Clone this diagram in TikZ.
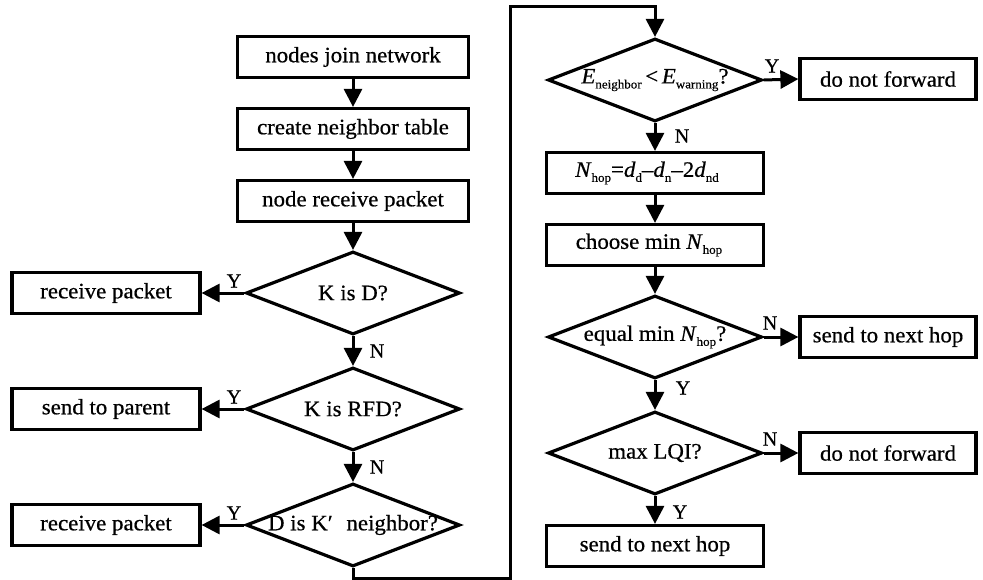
\documentclass[tikz,border=0pt]{standalone}
\usepackage{fontspec}
\setmainfont{Liberation Serif}
\usetikzlibrary{arrows.meta,shapes.geometric}
\newcommand{\sbs}[1]{\raisebox{-5pt}{\fontsize{12.5}{12.5}\selectfont\addfontfeatures{FakeBold=0.4} #1}}
\begin{document}
\begin{tikzpicture}[x=1pt,y=-1pt,
  font=\fontsize{22}{26}\selectfont\addfontfeatures{FakeBold=0.6,FakeStretch=1.04},
  box/.style={draw, line width=3.2pt, rectangle, minimum width=217pt, minimum height=41pt, inner sep=0pt},
  tbox/.style={box, minimum width=231pt},
  lbox/.style={box, minimum width=188pt},
  rbox/.style={box, minimum width=176pt},
  dia/.style={diamond, draw, line width=3.2pt, minimum width=214pt, minimum height=83pt, inner sep=0pt},
  arr/.style={line width=3pt, line join=miter, -{Triangle[length=18pt,width=18pt]}},
  lab/.style={font=\fontsize{20}{20}\selectfont\addfontfeatures{FakeBold=0.5}, inner sep=0pt}]
\useasboundingbox (0,0) rectangle (983,580);
% left column
\node[tbox] (n1) at (353,57) {nodes join network};
\node[tbox] (n2) at (353,129) {create neighbor table};
\node[tbox] (n3) at (353,201) {node receive packet};
\node[dia] (d1) at (353,293) {\makebox[0pt]{K is D?}};
\node[dia] (d2) at (353,409) {\makebox[0pt]{K is RFD?}};
\node[dia] (d3) at (353,525) {\makebox[0pt]{D is K′\hspace{8pt} neighbor?}};
\node[lbox] (r1) at (106,293) {receive packet};
\node[lbox] (r2) at (106,409) {send to parent};
\node[lbox] (r3) at (106,525) {receive packet};
% right column
\node[dia] (e1) at (655,80) {\makebox[0pt]{\textit{E}\sbs{neighbor}\,<\,\textit{E}\sbs{warning}?}};
\node[box] (b1) at (655,173) {\hspace{-16pt}\textit{N}\sbs{hop}=\textit{d}\sbs{d}–\textit{d}\sbs{n}–2\textit{d}\sbs{nd}};
\node[box] (b2) at (655,245) {\hspace{-12pt}choose min \textit{N}\sbs{hop}};
\node[dia] (d5) at (655,337) {\makebox[0pt]{equal min \textit{N}\sbs{hop}?}};
\node[dia] (d6) at (655,453) {\makebox[0pt]{max LQI?}};
\node[box] (b3) at (655,546) {send to next hop};
\node[rbox] (f1) at (888,79) {do not forward};
\node[rbox] (f2) at (888,337) {send to next hop};
\node[rbox] (f3) at (888,453) {do not forward};
% loop coordinates
\coordinate (c1) at (353,578);
\coordinate (c2) at (510,578);
\coordinate (c3) at (510,7);
\coordinate (c4) at (655,7);
% connectors
\draw[arr] (n1) -- (n2);
\draw[arr] (n2) -- (n3);
\draw[arr] (n3) -- (d1);
\draw[arr] (d1.west) -- (r1.east);
\draw[arr] (d1.south) -- (d2.north);
\draw[arr] (d2.west) -- (r2.east);
\draw[arr] (d2.south) -- (d3.north);
\draw[arr] (d3.west) -- (r3.east);
\draw[arr] (d3.south) -- (c1) -- (c2) -- (c3) -- (c4) -- (e1.north);
\draw[arr] (e1.east) -- (f1.west);
\draw[arr] (e1.south) -- (b1.north);
\draw[arr] (b1) -- (b2);
\draw[arr] (b2) -- (d5.north);
\draw[arr] (d5.east) -- (f2.west);
\draw[arr] (d5.south) -- (d6.north);
\draw[arr] (d6.east) -- (f3.west);
\draw[arr] (d6.south) -- (b3.north);
% labels
\node[lab] (y1) at (234,281) {Y};
\node[lab] (y2) at (234,397) {Y};
\node[lab] (y3) at (234,513) {Y};
\node[lab] (no1) at (377,351) {N};
\node[lab] (no2) at (377,467) {N};
\node[lab] (y4) at (772,66) {Y};
\node[lab] (no3) at (682,136) {N};
\node[lab] (no4) at (770,323) {N};
\node[lab] (y5) at (683,388) {Y};
\node[lab] (no5) at (770,439) {N};
\node[lab] (y6) at (680,512) {Y};
\end{tikzpicture}
\end{document}
